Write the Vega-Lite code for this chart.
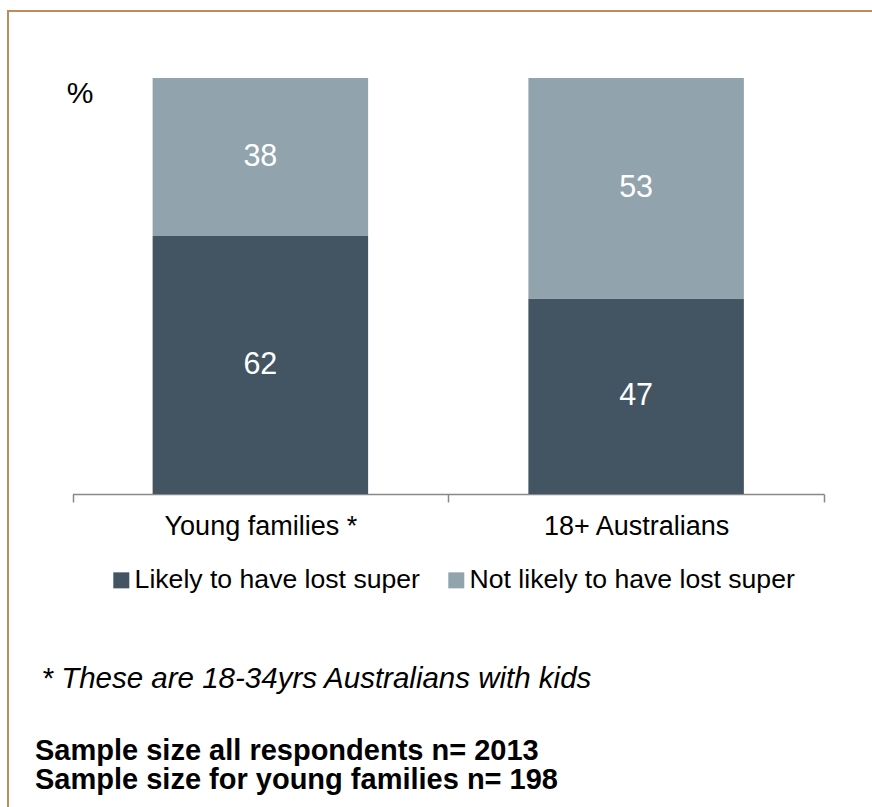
{
  "$schema": "https://vega.github.io/schema/vega-lite/v6.json",
  "autosize": {"type": "none"},
  "padding": {"left": 8, "top": 11, "right": 0, "bottom": 0},
  "width": 866,
  "height": 798,
  "background": "white",
  "config": {
    "view": {"stroke": "#C08A5B", "strokeWidth": 2},
    "font": "Liberation Sans, Arial, sans-serif"
  },
  "title": {
    "text": ["Sample size all respondents n= 2013", "Sample size for young families n= 198"],
    "orient": "bottom",
    "anchor": "start",
    "frame": "group",
    "offset": -72.5,
    "dx": 27,
    "font": "Liberation Sans, Arial, sans-serif",
    "fontSize": 29,
    "fontWeight": "bold",
    "fontStyle": "normal",
    "color": "black",
    "lineHeight": 29.5
  },
  "data": {
    "values": [
      {"group": "Young families *", "series": "Likely to have lost super", "pct": 62},
      {"group": "Young families *", "series": "Not likely to have lost super", "pct": 38},
      {"group": "18+ Australians", "series": "Likely to have lost super", "pct": 47},
      {"group": "18+ Australians", "series": "Not likely to have lost super", "pct": 53}
    ]
  },
  "encoding": {
    "x": {
      "field": "group",
      "type": "nominal",
      "sort": ["Young families *", "18+ Australians"],
      "scale": {"range": [64.5, 816], "paddingInner": 0, "paddingOuter": 0},
      "axis": {
        "title": "* These are 18-34yrs Australians with kids",
        "titleFont": "Liberation Sans, Arial, sans-serif",
        "titleFontSize": 29.5,
        "titleFontStyle": "italic",
        "titleFontWeight": "normal",
        "titleColor": "black",
        "titleX": 33,
        "titleY": 193,
        "titleAlign": "left",
        "titleAnchor": "start",
        "titleBaseline": "alphabetic",
        "titleLimit": 0,
        "orient": "bottom",
        "offset": -315,
        "domainColor": "#898989",
        "domainWidth": 1.5,
        "tickColor": "#898989",
        "tickWidth": 1.5,
        "tickSize": 8,
        "tickBand": "extent",
        "labelFontSize": 27,
        "labelColor": "black",
        "labelFont": "Liberation Sans, Arial, sans-serif",
        "labelPadding": 11,
        "labelAngle": 0,
        "labelLimit": 0,
        "grid": false
      }
    },
    "y": {
      "field": "pct",
      "type": "quantitative",
      "stack": "zero",
      "scale": {"domain": [0, 100], "range": [483, 67], "nice": false},
      "axis": {
        "title": "%",
        "domain": false,
        "ticks": false,
        "labels": false,
        "grid": false,
        "titleAngle": 0,
        "titleFontSize": 30,
        "titleFontWeight": "normal",
        "titleFont": "Liberation Sans, Arial, sans-serif",
        "titleColor": "black",
        "titleX": 71.5,
        "titleY": 91,
        "titleAlign": "center",
        "titleBaseline": "alphabetic"
      }
    },
    "order": {"field": "series", "sort": "ascending"}
  },
  "layer": [
    {
      "mark": {"type": "bar", "width": {"band": 0.5735}},
      "encoding": {
        "color": {
          "field": "series",
          "type": "nominal",
          "scale": {
            "domain": ["Likely to have lost super", "Not likely to have lost super"],
            "range": ["#435563", "#91A3AD"]
          },
          "legend": {
            "orient": "none",
            "legendX": 100,
            "legendY": 556,
            "direction": "horizontal",
            "title": null,
            "symbolType": "square",
            "symbolSize": 256,
            "symbolStrokeWidth": 0,
            "symbolOpacity": 1,
            "labelFontSize": 26.6,
            "labelFont": "Liberation Sans, Arial, sans-serif",
            "labelColor": "black",
            "labelLimit": 0,
            "labelOffset": 0,
            "columnPadding": 23,
            "padding": 0
          }
        }
      }
    },
    {
      "mark": {"type": "text", "fontSize": 30.5, "color": "white", "baseline": "middle", "align": "center"},
      "encoding": {
        "y": {"field": "pct", "type": "quantitative", "stack": "zero", "bandPosition": 0.5},
        "detail": {"field": "series"},
        "text": {"field": "pct", "type": "quantitative"}
      }
    }
  ]
}
